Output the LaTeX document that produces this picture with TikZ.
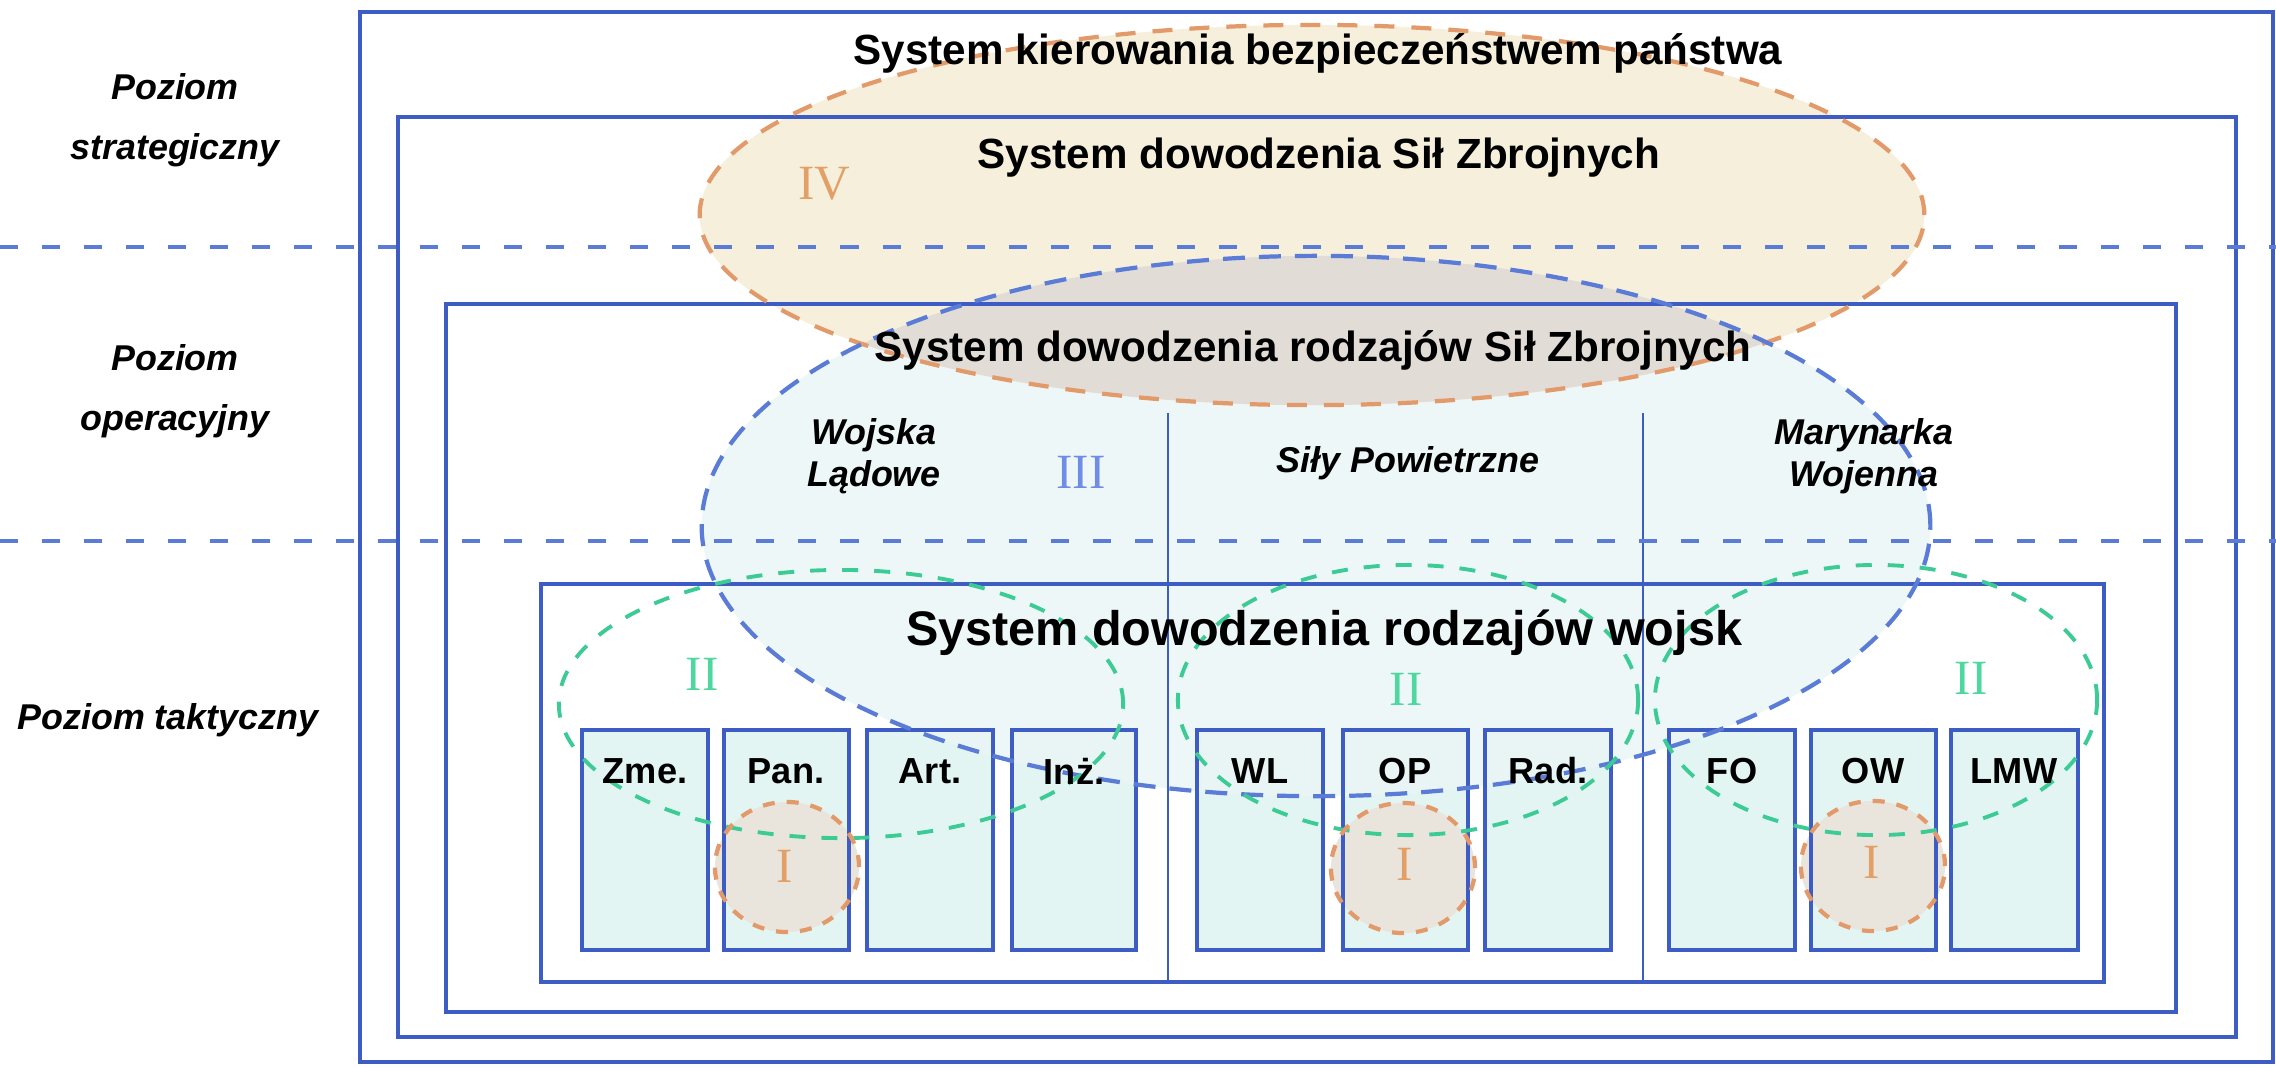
\documentclass[tikz,border=0pt]{standalone}
\usepackage{fontspec}
\setmainfont{Liberation Sans}
\newfontfamily\romfont{Liberation Serif}
\definecolor{boxblue}{HTML}{3D5CC4}
\definecolor{dashblue}{HTML}{5A7CD6}
\definecolor{orangeD}{HTML}{E39A6A}
\definecolor{greenD}{HTML}{3CCB95}
\definecolor{cyanfill}{HTML}{E2F5F3}
\definecolor{ellcyan}{HTML}{EBF6F6}
\definecolor{beige}{HTML}{F6EFDC}
\definecolor{overgray}{HTML}{E1DCD6}
\definecolor{circfill}{HTML}{E9E5DC}
\definecolor{numorange}{HTML}{E2A066}
\definecolor{numgreen}{HTML}{4ED8A0}
\definecolor{numblue}{HTML}{6F8DE6}
\tikzset{
  boxline/.style={draw=boxblue, line width=1.1pt},
  smallbox/.style={draw=boxblue, line width=1.1pt, fill=cyanfill},
  divider/.style={draw=boxblue, line width=0.7pt},
  leveldash/.style={draw=dashblue, line width=1.2pt, dash pattern=on 0.18cm off 0.24cm},
  orangedash/.style={draw=orangeD, line width=1.2pt, dash pattern=on 0.2cm off 0.17cm},
  bluedash/.style={draw=dashblue, line width=1.2pt, dash pattern=on 0.22cm off 0.14cm},
  greendash/.style={draw=greenD, line width=1.1pt, dash pattern=on 0.16cm off 0.16cm},
  title/.style={font=\fontsize{12}{14}\selectfont\bfseries, inner sep=0pt},
  bigtitle/.style={font=\fontsize{13.8}{16}\selectfont\bfseries, inner sep=0pt},
  lvl/.style={font=\fontsize{10.2}{17}\selectfont\bfseries\itshape, align=center, inner sep=0pt},
  branch/.style={font=\fontsize{10.2}{11.8}\selectfont\bfseries\itshape, align=center, inner sep=0pt},
  sblabel/.style={font=\fontsize{10.3}{12}\selectfont\bfseries, inner sep=0pt},
  roman/.style={font=\fontsize{14}{16}\selectfont\romfont, inner sep=0pt},
}
\begin{document}
\begin{tikzpicture}[x=0.01cm,y=-0.01cm]
\useasboundingbox (0,0) rectangle (2276,1066);
\fill[white] (0,0) rectangle (2276,1066);

% small box fills
\foreach \l/\r in {582/708,724/849,867/993,1012/1136,1197/1323,1343/1468,1485/1611,1669/1795,1811/1936,1951/2078}
  \fill[cyanfill] (\l,730) rectangle (\r,950);

% ellipse fills
\fill[ellcyan, fill opacity=0.85] (1316,526) ellipse [x radius=6.14cm, y radius=2.70cm];
\fill[beige] (1312,215) ellipse [x radius=6.12cm, y radius=1.90cm];
\begin{scope}
  \clip (1316,526) ellipse [x radius=6.14cm, y radius=2.70cm];
  \fill[overgray] (1312,215) ellipse [x radius=6.12cm, y radius=1.90cm];
\end{scope}
\foreach \cx/\cy in {787/867,1403/868,1873/866}
  \fill[circfill] (\cx,\cy) ellipse [x radius=0.72cm, y radius=0.65cm];

% boxes
\draw[boxline] (360,12) rectangle (2273,1062);
\draw[boxline] (398,117) rectangle (2236,1037);
\draw[boxline] (446,304) rectangle (2176,1012);
\draw[boxline] (541,584) rectangle (2104,982);
\draw[divider] (1168,413) -- (1168,982);
\draw[divider] (1643,413) -- (1643,982);
\foreach \l/\r in {582/708,724/849,867/993,1012/1136,1197/1323,1343/1468,1485/1611,1669/1795,1811/1936,1951/2078}
  \draw[boxline] (\l,730) rectangle (\r,950);

% level lines
\draw[leveldash] (0,247) -- (2276,247);
\draw[leveldash] (0,541) -- (2276,541);

% ellipse outlines
\draw[orangedash] (1312,215) ellipse [x radius=6.12cm, y radius=1.90cm];
\draw[bluedash] (1316,526) ellipse [x radius=6.14cm, y radius=2.70cm];
\draw[greendash] (841,704) ellipse [x radius=2.82cm, y radius=1.34cm];
\draw[greendash] (1408,700) ellipse [x radius=2.30cm, y radius=1.35cm];
\draw[greendash] (1876,700) ellipse [x radius=2.21cm, y radius=1.35cm];
\foreach \cx/\cy in {787/867,1403/868,1873/866}
  \draw[orangedash, dash pattern=on 0.12cm off 0.12cm] (\cx,\cy) ellipse [x radius=0.72cm, y radius=0.65cm];

% titles
\node[title] (t1) at (1318,53) {System kierowania bezpieczeństwem państwa};
\node[title] (t2) at (1319,158) {System dowodzenia Sił Zbrojnych};
\node[title] (t3) at (1313,350) {System dowodzenia rodzajów Sił Zbrojnych};
\node[bigtitle] (t4) at (1324,633) {System dowodzenia rodzajów wojsk};

% level labels
\node[lvl] (ls) at (175,120) {Poziom\\strategiczny};
\node[lvl] (lo) at (175,391) {Poziom\\operacyjny};
\node[lvl] (lt) at (168,720) {Poziom taktyczny};

% branches
\node[branch] (wl) at (874,456) {Wojska\\Lądowe};
\node[branch] (sp) at (1408,463) {Siły Powietrzne};
\node[branch] (mw) at (1864,456) {Marynarka\\Wojenna};

% small box labels
\node[sblabel] (bzme) at (645,771) {Zme.};
\node[sblabel] (bpan) at (786,771) {Pan.};
\node[sblabel] (bart) at (930,771) {Art.};
\node[sblabel] (binz) at (1074,771) {Inż.};
\node[sblabel] (bwl) at (1260,771) {WL};
\node[sblabel] (bop) at (1405,771) {OP};
\node[sblabel] (brad) at (1548,771) {Rad.};
\node[sblabel] (bfo) at (1732,771) {FO};
\node[sblabel] (bow) at (1873,771) {OW};
\node[sblabel] (blmw) at (2014,771) {LMW};

% roman numerals
\node[roman, text=numorange] (r4) at (824,184) {IV};
\node[roman, text=numblue] (r3) at (1081,472) {III};
\node[roman, text=numgreen] (r2a) at (702,674) {II};
\node[roman, text=numgreen] (r2b) at (1406,689) {II};
\node[roman, text=numgreen] (r2c) at (1971,678) {II};
\node[roman, text=numorange] (r1a) at (785,866) {I};
\node[roman, text=numorange] (r1b) at (1405,864) {I};
\node[roman, text=numorange] (r1c) at (1872,862) {I};
\end{tikzpicture}
\end{document}
